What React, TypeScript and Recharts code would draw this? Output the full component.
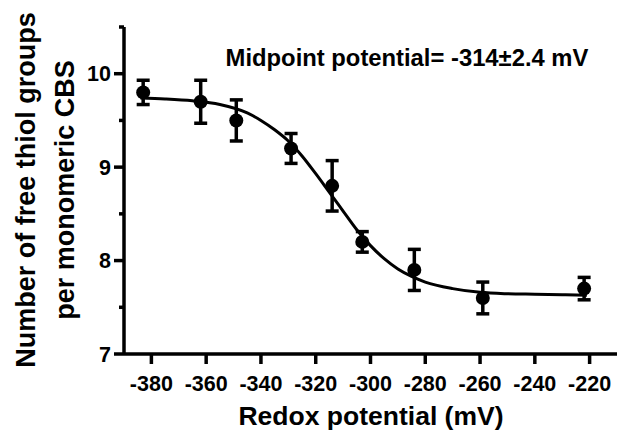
import React from 'react';
import { ComposedChart, Line, Scatter, XAxis, YAxis, ErrorBar } from 'recharts';

const xTicks = [-380, -360, -340, -320, -300, -280, -260, -240, -220];
const yTicks = [7, 7.5, 8, 8.5, 9, 9.5, 10, 10.5];

const pointX = [-383, -362, -349, -329, -314, -303, -284, -259, -222];
const pointY = [9.8, 9.7, 9.5, 9.2, 8.8, 8.2, 7.9, 7.6, 7.7];
const pointErr = [0.13, 0.23, 0.22, 0.16, 0.27, 0.11, 0.22, 0.17, 0.12];

const curveX = [-384, -375, -365, -355, -345, -340, -335, -330, -325, -320, -315, -310, -305, -300, -295, -290, -285, -280, -270, -260, -250, -240, -230, -221];
const curveY = [9.74, 9.73, 9.71, 9.67, 9.58, 9.5, 9.4, 9.28, 9.12, 8.93, 8.73, 8.53, 8.33, 8.16, 8.02, 7.91, 7.83, 7.77, 7.7, 7.66, 7.645, 7.64, 7.635, 7.63];

const points = pointX.map((x, i) => ({ x, y: pointY[i], err: pointErr[i] }));
const curve = curveX.map((x, i) => ({ x, y: curveY[i] }));

const FONT = '"Liberation Sans", Arial, Helvetica, sans-serif';

const renderYTick = (props: any) => {
  const { x, y, payload } = props;
  const v = payload.value;
  const major = Number.isInteger(v);
  return (
    <g key={`yt-${v}`}>
      <line x1={x - (major ? 10 : 5)} x2={x} y1={y} y2={y} stroke="#000" strokeWidth={3.5} />
      {major && (
        <text x={x - 13} y={y} dy="0.36em" textAnchor="end" fontFamily={FONT} fontWeight="bold" fontSize={21.5} fill="#000">
          {v}
        </text>
      )}
    </g>
  );
};

const renderXTick = (props: any) => {
  const { x, y, payload } = props;
  return (
    <g key={`xt-${payload.value}`}>
      <line x1={x} x2={x} y1={y} y2={y + 10} stroke="#000" strokeWidth={3.5} />
      <text x={x} y={y + 37} textAnchor="middle" fontFamily={FONT} fontWeight="bold" fontSize={21.5} fill="#000">
        {payload.value}
      </text>
    </g>
  );
};

const Dot = (props: any) => {
  const { cx, cy } = props;
  return <circle cx={cx} cy={cy} r={7} fill="#000" />;
};

export default function App() {
  return (
    <div style={{ position: 'absolute', left: 0, top: 0, width: 620, height: 432, background: '#fff' }}>
      <ComposedChart width={620} height={432} margin={{ top: 27, right: 3, bottom: 8, left: 4 }}>
        <XAxis
          dataKey="x"
          type="number"
          domain={[-390, -210]}
          ticks={xTicks}
          allowDataOverflow
          axisLine={{ stroke: '#000', strokeWidth: 3.5 }}
          tickLine={false}
          tickSize={0}
          tickMargin={0}
          tick={renderXTick}
          height={70}
          interval={0}
        />
        <YAxis
          dataKey="y"
          type="number"
          domain={[7, 10.5]}
          ticks={yTicks}
          allowDataOverflow
          axisLine={{ stroke: '#000', strokeWidth: 3.5 }}
          tickLine={false}
          tickSize={0}
          tickMargin={0}
          tick={renderYTick}
          width={120}
          interval={0}
        />
        <Line
          data={curve}
          dataKey="y"
          type="monotone"
          stroke="#000"
          strokeWidth={3}
          dot={false}
          activeDot={false}
          isAnimationActive={false}
        />
        <Scatter data={points} dataKey="y" shape={<Dot />} isAnimationActive={false}>
          <ErrorBar dataKey="err" direction="y" width={6.5} stroke="#000" strokeWidth={3.5} isAnimationActive={false} />
        </Scatter>
        <text x={35} y={190} transform="rotate(-90, 35, 190)" textAnchor="middle" fontFamily={FONT} fontWeight="bold" fontSize={27} fill="#000">
          Number of free thiol groups
        </text>
        <text x={74} y={190} transform="rotate(-90, 74, 190)" textAnchor="middle" fontFamily={FONT} fontWeight="bold" fontSize={27} fill="#000">
          per monomeric CBS
        </text>
        <text x={371} y={425} textAnchor="middle" fontFamily={FONT} fontWeight="bold" fontSize={26.5} fill="#000">
          Redox potential (mV)
        </text>
        <text x={407} y={66} textAnchor="middle" fontFamily={FONT} fontWeight="bold" fontSize={23.8} fill="#000">
          Midpoint potential= -314±2.4 mV
        </text>
      </ComposedChart>
    </div>
  );
}
